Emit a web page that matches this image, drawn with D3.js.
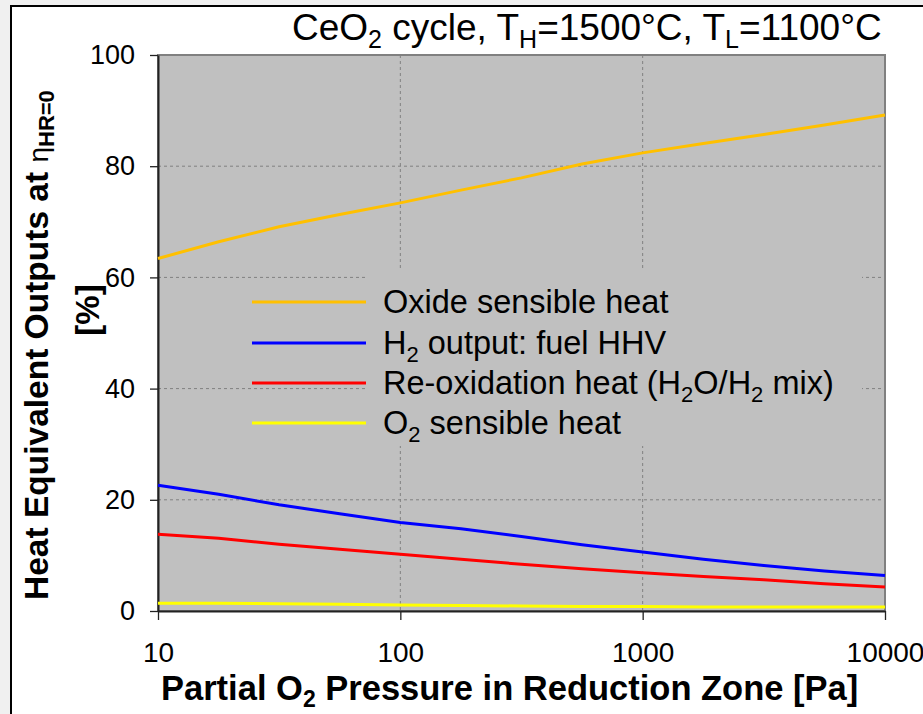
<!DOCTYPE html>
<html>
<head>
<meta charset="utf-8">
<script src="https://cdn.jsdelivr.net/npm/d3@7"></script>
<style>
  body { margin: 0; background: #f0f0f0; }
  svg { display: block; font-family: "Liberation Sans", Arial, sans-serif; }
</style>
</head>
<body>
<svg id="chart" width="923" height="714"></svg>
<script>
// partial O2 pressure [Pa], quarter decades
var pressure = [10, 17.8, 31.6, 56.2, 100, 178, 316, 562, 1000, 1780, 3160, 5620, 10000];

// heat equivalent outputs [%]
var oxideHeat = [63.4, 66.4, 69.1, 71.3, 73.4, 75.7, 77.9, 80.4, 82.4, 84.1, 85.7, 87.4, 89.2];
var h2Output  = [22.6, 21.0, 19.1, 17.5, 15.9, 14.8, 13.4, 11.9, 10.6, 9.3, 8.2, 7.2, 6.4];
var reoxHeat  = [13.8, 13.1, 12.0, 11.1, 10.2, 9.3, 8.4, 7.6, 6.9, 6.2, 5.6, 4.9, 4.3];
var o2Heat    = [1.4, 1.4, 1.3, 1.2, 1.1, 1.0, 0.9, 0.8, 0.8, 0.7, 0.7, 0.7, 0.7];

var xTicks = [10, 100, 1000, 10000];
var yTicks = [0, 20, 40, 60, 80, 100];

var seriesNames  = ["Oxide sensible heat", "H2 output: fuel HHV", "Re-oxidation heat (H2O/H2 mix)", "O2 sensible heat"];
var seriesValues = [oxideHeat, h2Output, reoxHeat, o2Heat];
var seriesColors = ["#ffc000", "#0000ff", "#ff0000", "#ffff00"];

var svg = d3.select("#chart");
var margin = {left: 158, top: 55, right: 885, bottom: 611};

var xScale = d3.scaleLog().domain([10, 10000]).range([margin.left, margin.right]);
var yScale = d3.scaleLinear().domain([0, 100]).range([margin.bottom, margin.top]);

// outer frame
svg.append("rect")
  .attr("x", 11).attr("y", 6)
  .attr("width", 940).attr("height", 740)
  .style("fill", "white").style("stroke", "black").style("stroke-width", 2);

// plot area
svg.append("rect")
  .attr("x", margin.left).attr("y", margin.top)
  .attr("width", margin.right - margin.left).attr("height", margin.bottom - margin.top)
  .style("fill", "#c0c0c0").style("stroke", "#808080").style("stroke-width", 2);

// gridlines
svg.append("g").selectAll("line")
  .data(yTicks.slice(1, -1))
  .enter().append("line")
  .attr("x1", margin.left).attr("x2", margin.right)
  .attr("y1", d => yScale(d)).attr("y2", d => yScale(d))
  .style("stroke", "#808080").style("stroke-dasharray", "3,3");

svg.append("g").selectAll("line")
  .data(xTicks.slice(1, -1))
  .enter().append("line")
  .attr("y1", margin.top).attr("y2", margin.bottom)
  .attr("x1", d => xScale(d)).attr("x2", d => xScale(d))
  .style("stroke", "#808080").style("stroke-dasharray", "3,3");

// legend text area hides the gridlines behind it
svg.append("rect")
  .attr("x", 368).attr("y", 270)
  .attr("width", 494).attr("height", 176)
  .style("fill", "#c0c0c0");

// axes
var yAxis = d3.axisLeft(yScale).tickValues(yTicks).tickSize(8).tickSizeOuter(0).tickPadding(15);
var xAxis = d3.axisBottom(xScale).tickValues(xTicks).tickFormat(d3.format("d"))
  .tickSize(9).tickSizeOuter(0).tickPadding(22);

var gy = svg.append("g").attr("transform", "translate(" + margin.left + ",0)").call(yAxis);
var gx = svg.append("g").attr("transform", "translate(0," + margin.bottom + ")").call(xAxis);

[gx, gy].forEach(function(g) {
  g.select(".domain").style("stroke", "#222").style("stroke-width", 2);
  g.selectAll(".tick line").style("stroke", "#222").style("stroke-width", 1.3);
  g.selectAll(".tick text").style("font-family", "Liberation Sans, Arial, sans-serif").style("fill", "black");
});
gy.selectAll(".tick text").style("font-size", "27px");
gx.selectAll(".tick text").style("font-size", "28px");

// series lines
var line = d3.line()
  .x((d, i) => xScale(pressure[i]))
  .y(d => yScale(d));

svg.append("g").selectAll("path")
  .data(seriesValues)
  .enter().append("path")
  .attr("d", line)
  .style("fill", "none")
  .style("stroke", (d, i) => seriesColors[i])
  .style("stroke-width", 3);

// legend
var legendRows = [302, 343, 383, 423];
var legend = svg.append("g").selectAll("g")
  .data(seriesNames)
  .enter().append("g")
  .attr("transform", (d, i) => "translate(0," + legendRows[i] + ")");

legend.append("line")
  .attr("x1", 252).attr("x2", 366)
  .style("stroke", (d, i) => seriesColors[i])
  .style("stroke-width", 3);

var legendText = legend.append("text")
  .attr("x", 383).attr("y", 11)
  .style("font-size", "32.5px");

function addSubscripted(textSel, str) {
  // split "H2", "O2" style subscripts
  var parts = str.split(/(?<=[HO])2/);
  parts.forEach(function(p, k) {
    var t = textSel.append("tspan").text(p);
    if (k > 0) t.attr("dy", -8);
    if (k < parts.length - 1) {
      textSel.append("tspan").attr("dy", 8).style("font-size", "22px").text("2");
    }
  });
}
legendText.each(function(d) { addSubscripted(d3.select(this), d); });

// title
var title = svg.append("text")
  .attr("x", 292).attr("y", 40)
  .style("font-size", "37px")
  .style("font-family", "Liberation Sans, Arial, sans-serif");
title.append("tspan").text("CeO");
title.append("tspan").attr("dy", 8).style("font-size", "25px").text("2");
title.append("tspan").attr("dy", -8).text(" cycle, T");
title.append("tspan").attr("dy", 8).style("font-size", "25px").text("H");
title.append("tspan").attr("dy", -8).text("=1500°C, T");
title.append("tspan").attr("dy", 8).style("font-size", "25px").text("L");
title.append("tspan").attr("dy", -8).text("=1100°C");

// x axis title
var xTitle = svg.append("text")
  .attr("x", 161).attr("y", 700)
  .style("font-size", "34.5px").style("font-weight", "bold");
xTitle.append("tspan").text("Partial O");
xTitle.append("tspan").attr("dy", 7).style("font-size", "23px").text("2");
xTitle.append("tspan").attr("dy", -7).text(" Pressure in Reduction Zone [Pa]");

// y axis title, two lines
var yTitle = svg.append("text")
  .attr("transform", "translate(48,600) rotate(-90)")
  .style("font-size", "33.5px").style("font-weight", "bold");
yTitle.append("tspan").text("Heat Equivalent Outputs at ");
yTitle.append("tspan").style("font-weight", "normal").style("font-size", "28px").text("η");
yTitle.append("tspan").attr("dy", 6).style("font-size", "22px").text("HR=0");

svg.append("text")
  .attr("transform", "translate(99,310) rotate(-90)")
  .style("text-anchor", "middle")
  .style("font-size", "33px").style("font-weight", "bold")
  .text("[%]");
</script>
</body>
</html>
